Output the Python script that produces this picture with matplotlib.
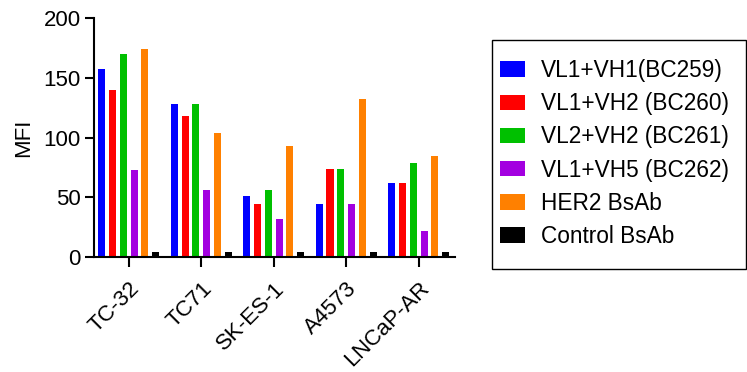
import numpy as np
import matplotlib.pyplot as plt
from matplotlib.patches import Rectangle

plt.rcParams['font.family'] = ['Liberation Sans', 'DejaVu Sans']

cell_lines = ['TC-32', 'TC71', 'SK-ES-1', 'A4573', 'LNCaP-AR']
series = ['VL1+VH1(BC259)', 'VL1+VH2 (BC260)', 'VL2+VH2 (BC261)',
          'VL1+VH5 (BC262)', 'HER2 BsAb', 'Control BsAb']
colors = ['#0000FF', '#FF0000', '#00C000', '#A300E0', '#FF8000', '#000000']

bc259 = [157, 128, 51, 44.5, 62]
bc260 = [140, 118, 44, 73.5, 62]
bc261 = [170, 128, 56, 74, 79]
bc262 = [72.5, 56, 32, 44.5, 22]
her2 = [174, 103.5, 93, 132, 84.5]
control = [4.5, 4.5, 4.5, 4.5, 4.5]
values = [bc259, bc260, bc261, bc262, her2, control]

fig = plt.figure(figsize=(7.47, 3.72), dpi=100)
ax = fig.add_axes([0.1258, 0.309, 0.4832, 0.6426])

x = np.arange(len(cell_lines))
pitch = 0.149
width = 0.097
for i, (vals, lab, col) in enumerate(zip(values, series, colors)):
    ax.bar(x + (i - 2.5)*pitch, vals, width, color=col, label=lab)

ax.set_xlim(-0.48, 4.5)
ax.set_ylim(0, 200)
ax.set_yticks([0, 50, 100, 150, 200])
ax.set_xticks(x)
ax.set_xticklabels(cell_lines, rotation=45, ha='right', rotation_mode='anchor', fontsize=16)
ax.tick_params(axis='y', labelsize=16, width=1.5, length=6.5, pad=3)
ax.tick_params(axis='x', width=1.5, length=7, pad=8)
ax.set_ylabel('MFI', fontsize=16, labelpad=7)

for s in ['top', 'right']:
    ax.spines[s].set_visible(False)
for s in ['left', 'bottom']:
    ax.spines[s].set_linewidth(1.5)

# legend frame drawn separately (uneven padding in the original)
fig.patches.append(Rectangle((492/747, 1 - 269/372), 254/747, 229/372,
                             transform=fig.transFigure, fill=False,
                             edgecolor='black', linewidth=1.0))
leg = fig.legend(loc='upper left', bbox_to_anchor=(500/747, 1 - 59/372),
                 fontsize=16.3, frameon=False,
                 handlelength=1.1, handleheight=0.67, handletextpad=0.7,
                 labelspacing=0.45, borderpad=0, borderaxespad=0)

fig.savefig('out.png', dpi=100)
